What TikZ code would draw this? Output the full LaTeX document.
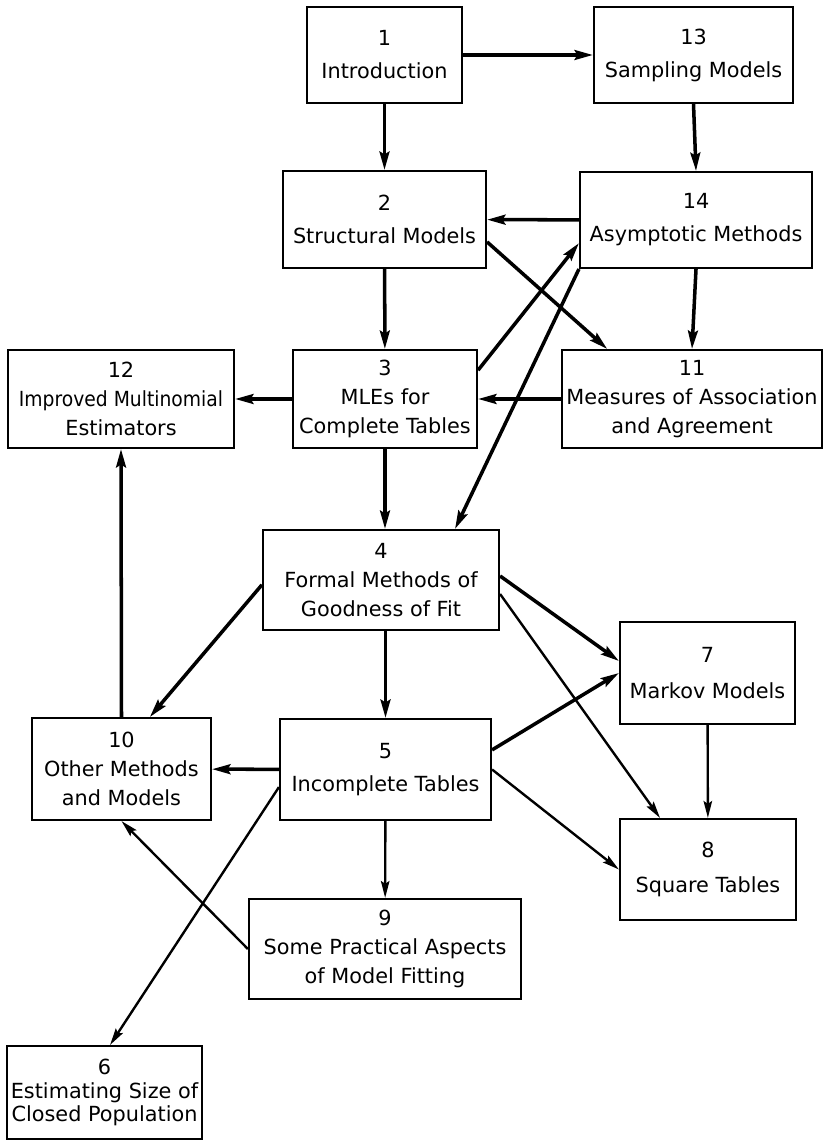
\documentclass[tikz,border=0pt]{standalone}
\usepackage{fontspec}
\setmainfont{DejaVu Sans}
\usetikzlibrary{arrows.meta}

\begin{document}
\begin{tikzpicture}[x=0.025cm, y=-0.025cm,
    chap/.style={rectangle, draw, line width=1.5pt, align=center, inner sep=0pt,
      font=\fontsize{14.8}{20.5}\selectfont},
    link/.style={line width=2.5pt, -{Stealth[length=13pt,width=7pt,inset=2pt]}},
    thinlink/.style={line width=1.7pt, -{Stealth[length=12pt,width=6pt,inset=2pt]}}]

    \useasboundingbox (0,0) rectangle (824,1141);

    % Nodes
    \node[chap, minimum width=3.875cm, minimum height=2.4cm] (n1) at (384.5,55) {1\\[3pt]Introduction};
    \node[chap, minimum width=4.975cm, minimum height=2.4cm] (n13) at (693.5,55) {13\\[3pt]Sampling Models};
    \node[chap, minimum width=5.075cm, minimum height=2.425cm] (n2) at (384.5,219.5) {2\\[3pt]Structural Models};
    \node[chap, minimum width=5.8cm, minimum height=2.4cm] (n14) at (696,220) {14\\[3pt]Asymptotic Methods};
    \node[chap, minimum width=5.65cm, minimum height=2.45cm] (n12) at (121,399) {12\\\scalebox{0.9}[1]{Improved Multinomial}\\Estimators};
    \node[chap, minimum width=4.6cm, minimum height=2.45cm] (n3) at (385,399) {3\\MLEs for\\Complete Tables};
    \node[chap, minimum width=6.5cm, minimum height=2.45cm] (n11) at (692,399) {11\\Measures of Association\\and Agreement};
    \node[chap, minimum width=5.9cm, minimum height=2.5cm] (n4) at (381,580) {4\\Formal Methods of\\Goodness of Fit};
    \node[chap, minimum width=4.375cm, minimum height=2.55cm] (n7) at (707.5,673) {7\\[5pt]Markov Models};
    \node[chap, minimum width=4.475cm, minimum height=2.55cm] (n10) at (121.5,769) {10\\Other Methods\\and Models};
    \node[chap, minimum width=5.275cm, minimum height=2.525cm] (n5) at (385.5,769.5) {5\\[3pt]Incomplete Tables};
    \node[chap, minimum width=4.4cm, minimum height=2.525cm] (n8) at (708,869.5) {8\\[5pt]Square Tables};
    \node[chap, minimum width=6.8cm, minimum height=2.5cm] (n9) at (385,949) {9\\Some Practical Aspects\\of Model Fitting};
    \node[chap, minimum width=4.875cm, minimum height=2.325cm] (n6) at (104.5,1092.5) {6\\[-4pt]Estimating Size of\\[-4pt]Closed Population};

    % Arrows
    \draw[link] (n1) -- (n13);
    \draw[link] (n1) -- (n2);
    \draw[link] (n13.south) -- (n14.north);
    \draw[link] (n14) -- (n2);
    \draw[link] (n2) -- (n3);
    \draw[link] ([yshift=-0.56cm]n2.east) -- ([xshift=-2.12cm]n11.north);
    \draw[link] ([yshift=0.72cm]n3.east) -- ([yshift=-0.58cm]n14.west);
    \draw[link] (n14.south west) -- ([xshift=1.85cm]n4.north);
    \draw[link] (n14.south) -- (n11.north);
    \draw[link] (n3) -- (n12);
    \draw[link] (n11) -- (n3);
    \draw[link] (n3.south) -- (n3.south |- n4.north);
    \draw[link] (n10.north) -- (n12.south);
    \draw[link] ([yshift=-0.12cm]n4.west) -- ([xshift=0.71cm]n10.north);
    \draw[link] (n4.south -| n5.north) -- (n5.north);
    \draw[link] ([yshift=0.1cm]n4.east) -- ([yshift=0.3cm]n7.west);
    \draw[thinlink] ([yshift=-0.35cm]n4.east) -- ([xshift=-1.2cm]n8.north);
    \draw[thinlink] (n7) -- (n8);
    \draw[link] (n5) -- (n10);
    \draw[link] ([yshift=0.49cm]n5.east) -- (n7.west);
    \draw[thinlink] (n5.east) -- (n8.west);
    \draw[thinlink] (n5) -- (n9);
    \draw[thinlink] ([yshift=-0.44cm]n5.west) -- ([xshift=0.14cm]n6.north);
    \draw[thinlink] (n9.west) -- (n10.south);
\end{tikzpicture}
\end{document}
